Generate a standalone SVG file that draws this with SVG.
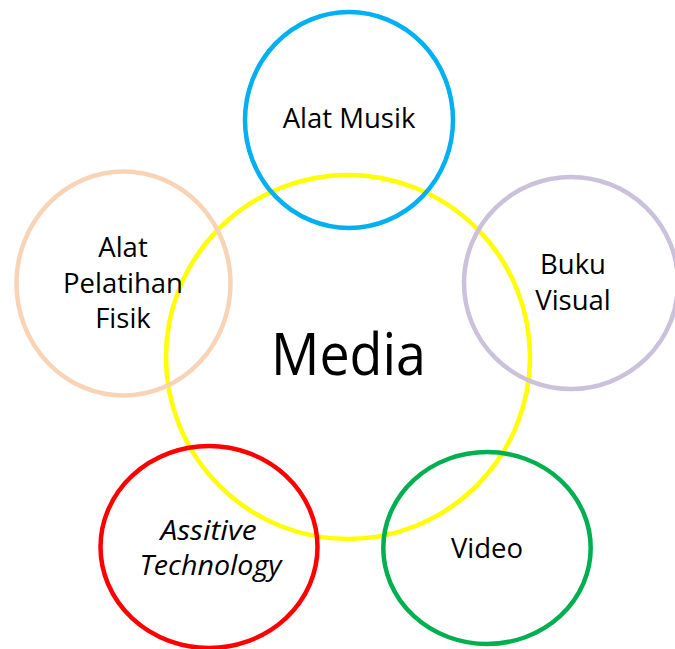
<svg xmlns="http://www.w3.org/2000/svg" width="675" height="649" viewBox="0 0 675 649">
<style>
.c{fill:none;stroke-width:4.5}
.t{font-family:"Open Sans","Noto Sans","Liberation Sans",sans-serif;font-size:27.5px;fill:#000;text-anchor:middle}
.it{font-style:italic}
</style>
<rect width="675" height="649" fill="#fff"/>
<g id="media">
<ellipse class="c" cx="348" cy="357" rx="182" ry="182" stroke="#FFFF00"/>
<text class="t" x="348.5" y="375" style="font-size:58px" textLength="155" lengthAdjust="spacingAndGlyphs">Media</text>
</g>
<g id="alat-musik">
<ellipse class="c" cx="349" cy="120" rx="104" ry="108" stroke="#00B0F0"/>
<text class="t" x="349" y="128">Alat Musik</text>
</g>
<g id="alat-pelatihan-fisik">
<ellipse class="c" cx="123.5" cy="283.5" rx="107" ry="112" stroke="#F9D3B5"/>
<text class="t" x="123" y="257">Alat</text>
<text class="t" x="123" y="292.5">Pelatihan</text>
<text class="t" x="123" y="327.5">Fisik</text>
</g>
<g id="buku-visual">
<ellipse class="c" cx="571" cy="283" rx="107" ry="106" stroke="#CCC1DA"/>
<text class="t" x="573" y="274">Buku</text>
<text class="t" x="573" y="310">Visual</text>
</g>
<g id="assitive-technology">
<ellipse class="c" cx="209" cy="547" rx="108.5" ry="101" stroke="#FF0000"/>
<text class="t it" x="208.5" y="540" textLength="96" lengthAdjust="spacingAndGlyphs">Assitive</text>
<text class="t it" x="210.5" y="575" textLength="142" lengthAdjust="spacingAndGlyphs">Technology</text>
</g>
<g id="video">
<ellipse class="c" cx="487" cy="548" rx="103.7" ry="96" stroke="#00B050"/>
<text class="t" x="487" y="558">Video</text>
</g>
<g id="connectors"></g>
</svg>
